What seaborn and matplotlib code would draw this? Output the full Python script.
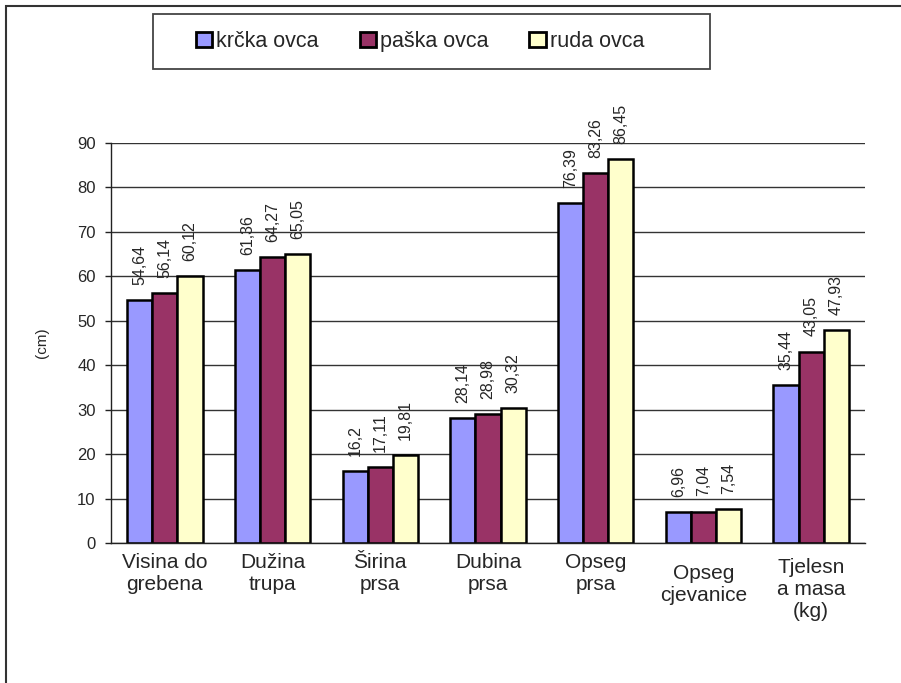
import matplotlib
matplotlib.use("Agg")
import matplotlib.pyplot as plt
import matplotlib.transforms as mtrans
import seaborn as sns
import pandas as pd
from matplotlib.patches import Rectangle, Patch

categories = ["Visina do\ngrebena", "Dužina\ntrupa", "Širina\nprsa", "Dubina\nprsa",
              "Opseg\nprsa", "Opseg\ncjevanice", "Tjelesn\na masa\n(kg)"]
series_names = ["krčka ovca", "paška ovca", "ruda ovca"]
krcka = [54.64, 61.36, 16.2, 28.14, 76.39, 6.96, 35.44]
paska = [56.14, 64.27, 17.11, 28.98, 83.26, 7.04, 43.05]
ruda = [60.12, 65.05, 19.81, 30.32, 86.45, 7.54, 47.93]
colors = ["#9999FF", "#993366", "#FFFFCC"]
yticks = [0, 10, 20, 30, 40, 50, 60, 70, 80, 90]

rows = []
for name, vals in zip(series_names, [krcka, paska, ruda]):
    for c, v in zip(categories, vals):
        rows.append({"cat": c, "val": v, "breed": name})
df = pd.DataFrame(rows)

sns.set_style("white")
plt.rcParams["font.family"] = ["Liberation Sans", "DejaVu Sans"]

fig = plt.figure(figsize=(9.01, 6.83), dpi=100)
ax = fig.add_axes([111/901, 1-543/683, (865-111)/901, (543-143)/683])

sns.barplot(data=df, x="cat", y="val", hue="breed", order=categories,
            hue_order=series_names, palette=colors, saturation=1,
            edgecolor="black", linewidth=1.8, width=0.7, ax=ax,
            legend=False, errorbar=None)

for cont, vals in zip(ax.containers, [krcka, paska, ruda]):
    labels = [str(v).replace(".", ",") for v in vals]
    ax.bar_label(cont, labels=labels, rotation=90, padding=11, fontsize=11.5)

ax.set_ylim(0, 90)
ax.set_xlim(-0.5, len(categories) - 0.5)
ax.set_yticks(yticks)
ax.set_yticklabels([str(t) for t in yticks], fontsize=12)
ax.yaxis.grid(True, color="#333333", linewidth=1)
ax.set_axisbelow(True)
for s in ["top", "right"]:
    ax.spines[s].set_visible(False)
for s in ["left", "bottom"]:
    ax.spines[s].set_color("#222222")
    ax.spines[s].set_linewidth(1)
ax.tick_params(axis="y", left=True, length=4, width=1, color="#222222", pad=7)
ax.tick_params(axis="x", length=0, pad=7, labelsize=15)
ax.set_xlabel("")
ax.set_ylabel("(cm)", fontsize=11, labelpad=20)

# small vertical offsets of some category labels, as in the reference
offsets_px = {5: 11, 6: 5}
for i, lab in enumerate(ax.get_xticklabels()):
    if i in offsets_px:
        lab.set_transform(lab.get_transform() +
                          mtrans.ScaledTranslation(0, -offsets_px[i]/100, fig.dpi_scale_trans))

# legend box
fig.patches.append(Rectangle((153/901, 1-69/683), (710-153)/901, (69-14)/683,
                             transform=fig.transFigure, fill=False,
                             edgecolor="#444444", linewidth=1.3))
handles = [Patch(facecolor=c, edgecolor="black", linewidth=2) for c in colors]
fig.legend(handles, series_names, loc="center", bbox_to_anchor=(420/901, 1-41.5/683),
           ncol=3, frameon=False, fontsize=15.5, handlelength=0.75, handleheight=0.75,
           handletextpad=0.2, columnspacing=1.9)

# outer border
fig.patches.append(Rectangle((6/901, -0.05), 1.0, 1-6/683+0.05,
                             transform=fig.transFigure, fill=False,
                             edgecolor="#333333", linewidth=1.5))

fig.savefig("out.png", dpi=100)
